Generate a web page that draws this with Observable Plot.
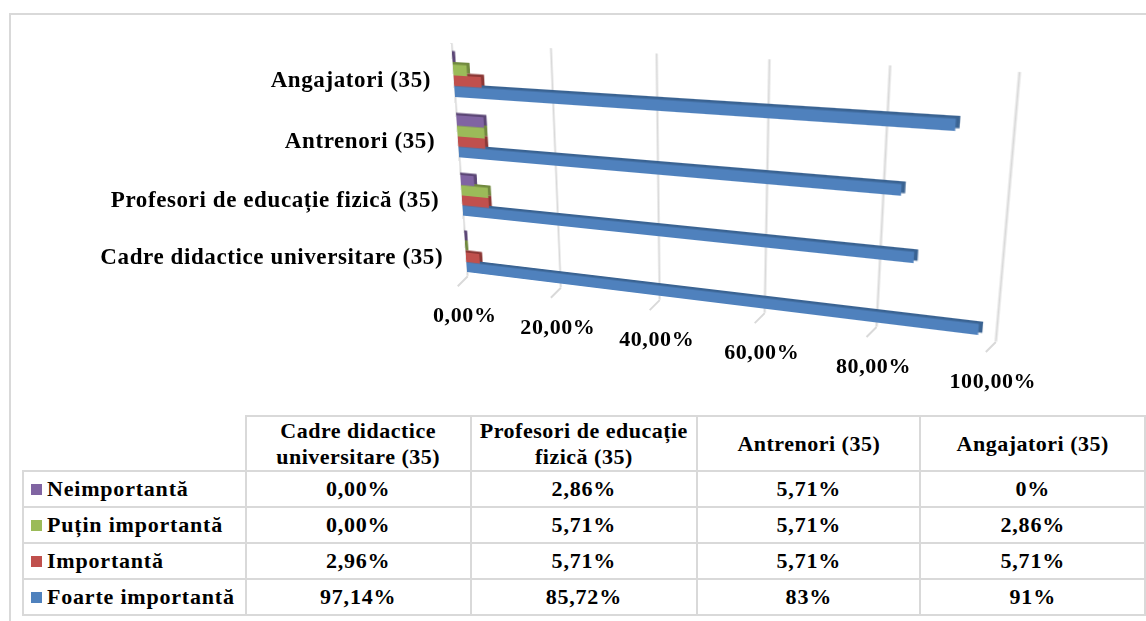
<!DOCTYPE html>
<html>
<head>
<meta charset="utf-8">
<script src="https://cdn.jsdelivr.net/npm/d3@7"></script>
<script src="https://cdn.jsdelivr.net/npm/@observablehq/plot@0.6"></script>
<style>
  html, body { margin: 0; padding: 0; background: #fff; }
  #page { position: relative; width: 1146px; height: 621px; overflow: hidden; font-family: "Liberation Serif", "Times New Roman", serif; }
  #frame { position: absolute; left: 9px; top: 13px; width: 1300px; height: 700px; border-top: 2px solid #d9d9d9; border-left: 2px solid #d9d9d9; }
  #bars svg { position: absolute; left: 0; top: 0; transform-origin: 0 0; }
  #labels svg { position: absolute; left: 0; top: 0; }
  #tbl { position: absolute; left: 22px; top: 415px; border-collapse: collapse; table-layout: fixed; font-weight: bold; font-size: 22px; letter-spacing: 0.8px; color: #000; font-family: "Liberation Serif", "Times New Roman", serif; }
  #tbl td { border: 2px solid #d9d9d9; text-align: center; padding: 0; line-height: 26px; white-space: nowrap; }
  #tbl td.blank { border-top: none; border-left: none; }
  #tbl td.lab { text-align: left; padding-left: 7px; }
  #tbl tr.head td { letter-spacing: 0.5px; }
  #tbl tr.head { height: 55px; }
  #tbl tr.row { height: 36px; }
  .key { display: inline-block; width: 11px; height: 11px; margin-right: 5px; vertical-align: 1px; }
</style>
</head>
<body>
<div id="page">
  <div id="frame"></div>
  <div id="bars"></div>
  <div id="labels"></div>
  <table id="tbl"></table>
</div>
<script>
// ---------- data ----------
const categories = ["Cadre didactice universitare (35)", "Profesori de educație fizică (35)", "Antrenori (35)", "Angajatori (35)"];
const headerLines = [["Cadre didactice", "universitare (35)"], ["Profesori de educație", "fizică (35)"], ["Antrenori (35)"], ["Angajatori (35)"]];
const seriesNames = ["Neimportantă", "Puțin importantă", "Importantă", "Foarte importantă"];
const neimportanta = [0.00, 2.86, 5.71, 0];
const putinImportanta = [0.00, 5.71, 5.71, 2.86];
const importanta = [2.96, 5.71, 5.71, 5.71];
const foarteImportanta = [97.14, 85.72, 83, 91];
const neimportantaText = ["0,00%", "2,86%", "5,71%", "0%"];
const putinImportantaText = ["0,00%", "5,71%", "5,71%", "2,86%"];
const importantaText = ["2,96%", "5,71%", "5,71%", "5,71%"];
const foarteImportantaText = ["97,14%", "85,72%", "83%", "91%"];
const tickValues = [0, 20, 40, 60, 80, 100];
const tickLabels = ["0,00%", "20,00%", "40,00%", "60,00%", "80,00%", "100,00%"];
const colors = ["#8064a2", "#9bbb59", "#c0504d", "#4f81bd"];
const sideColors = ["#5c4776", "#71893f", "#8c3836", "#3a6392"];

const seriesValues = [neimportanta, putinImportanta, importanta, foarteImportanta];
const seriesText = [neimportantaText, putinImportantaText, importantaText, foarteImportantaText];

// ---------- flat chart (before perspective) ----------
const W = 550, H = 250, mt = 9, mb = 5, yRange = [10, 250], pIn = 0.3, pOut = 0.15;
const yDomain = [...categories].reverse(); // Angajatori on top
const band = d3.scaleBand().domain(yDomain).range(yRange).paddingInner(pIn).paddingOuter(pOut);
const bw = band.bandwidth();

const rows = seriesNames.flatMap((s, k) => categories.map((c, i) => ({series: s, category: c, value: seriesValues[k][i]})));

const marks = [Plot.ruleX(tickValues, {stroke: "#d9d9d9", strokeWidth: 2})];
seriesNames.forEach((s, k) => marks.push(Plot.barX(rows.filter(d => d.series === s), {
  x: "value", y: "category", fill: sideColors[k],
  insetTop: k * bw / 4, insetBottom: (3 - k) * bw / 4, insetRight: -3.5, dy: -2.5
})));
seriesNames.forEach((s, k) => marks.push(Plot.barX(rows.filter(d => d.series === s), {
  x: "value", y: "category", fill: colors[k],
  insetTop: k * bw / 4, insetBottom: (3 - k) * bw / 4
})));

const chartA = Plot.plot({
  width: W, height: H, marginLeft: 0, marginRight: 10, marginTop: mt, marginBottom: mb,
  x: {domain: [0, 100], axis: null},
  y: {domain: yDomain, range: yRange, paddingInner: pIn, paddingOuter: pOut, round: false, axis: null},
  style: {background: "transparent", overflow: "visible"},
  marks
});
document.getElementById("bars").appendChild(chartA);

// ---------- perspective (homography) ----------
const xs = chartA.scale("x");
const xA = v => xs.apply(v);
const src = [
  [xA(0), band(yDomain[0]) + bw], [xA(100), band(yDomain[0]) + bw],
  [xA(0), band(yDomain[3]) + bw], [xA(100), band(yDomain[3]) + bw]
];
const view = [[455, 97], [1013.5, 135], [467, 272], [995.7, 337.2]];

function solve(A, b) {
  const n = b.length, M = A.map((r, i) => [...r, b[i]]);
  for (let c = 0; c < n; c++) {
    let p = c;
    for (let r = c + 1; r < n; r++) if (Math.abs(M[r][c]) > Math.abs(M[p][c])) p = r;
    [M[c], M[p]] = [M[p], M[c]];
    for (let r = 0; r < n; r++) {
      if (r === c) continue;
      const f = M[r][c] / M[c][c];
      for (let k = c; k <= n; k++) M[r][k] -= f * M[c][k];
    }
  }
  return M.map((r, i) => r[n] / r[i]);
}
const A = [], b = [];
for (let i = 0; i < 4; i++) {
  const [x, y] = src[i], [X, Y] = view[i];
  A.push([x, y, 1, 0, 0, 0, -X * x, -X * y]); b.push(X);
  A.push([0, 0, 0, x, y, 1, -Y * x, -Y * y]); b.push(Y);
}
const h = solve(A, b);
const project = (x, y) => {
  const w = h[6] * x + h[7] * y + 1;
  return [(h[0] * x + h[1] * y + h[2]) / w, (h[3] * x + h[4] * y + h[5]) / w];
};
chartA.style.transform = `matrix3d(${h[0]},${h[3]},0,${h[6]},${h[1]},${h[4]},0,${h[7]},0,0,1,0,${h[2]},${h[5]},0,1)`;

// ---------- labels (upright) ----------
const catLabels = categories.map(c => {
  const [X, Y] = project(xA(0), band(c) + bw / 2);
  return {label: c, X: X - 23, Y: Y + 4};
});
const frameBottom = H - mb;
const tickPos = tickValues.map((t, i) => {
  const [X, Y] = project(xA(t), frameBottom);
  return {label: tickLabels[i], X, Y};
});

const chartB = Plot.plot({
  width: 1146, height: 410, marginLeft: 0, marginRight: 0, marginTop: 0, marginBottom: 0,
  x: {type: "identity", axis: null}, y: {type: "identity", axis: null},
  style: {background: "transparent", overflow: "visible", fontFamily: "Liberation Serif, Times New Roman, serif"},
  marks: [
    Plot.link(tickPos, {x1: "X", y1: "Y", x2: d => d.X - 10, y2: d => d.Y + 10, stroke: "#d9d9d9", strokeWidth: 2}),
    Plot.text(catLabels, {x: "X", y: "Y", text: "label", textAnchor: "end", fontSize: 23, fontWeight: "bold", fill: "#000", fontFamily: "Liberation Serif"}),
    Plot.text(tickPos, {x: d => d.X - 3, y: d => d.Y + 39, text: "label", fontSize: 22, fontWeight: "bold", fill: "#000", fontFamily: "Liberation Serif"})
  ]
});
chartB.querySelectorAll("text").forEach(t => t.style.letterSpacing = "0.6px");
document.getElementById("labels").appendChild(chartB);

// ---------- data table ----------
const colWidths = [223, 226, 227, 225, 226];
const tbl = document.getElementById("tbl");
let html = "<colgroup>" + colWidths.map(w => `<col style="width:${w}px">`).join("") + "</colgroup>";
html += `<tr class="head"><td class="blank"></td>` + headerLines.map(ls => `<td>${ls.join("<br>")}</td>`).join("") + "</tr>";
seriesNames.forEach((s, k) => {
  html += `<tr class="row"><td class="lab"><span class="key" style="background:${colors[k]}"></span>${s}</td>` +
    seriesText[k].map(t => `<td>${t}</td>`).join("") + "</tr>";
});
tbl.innerHTML = html;
</script>
</body>
</html>
